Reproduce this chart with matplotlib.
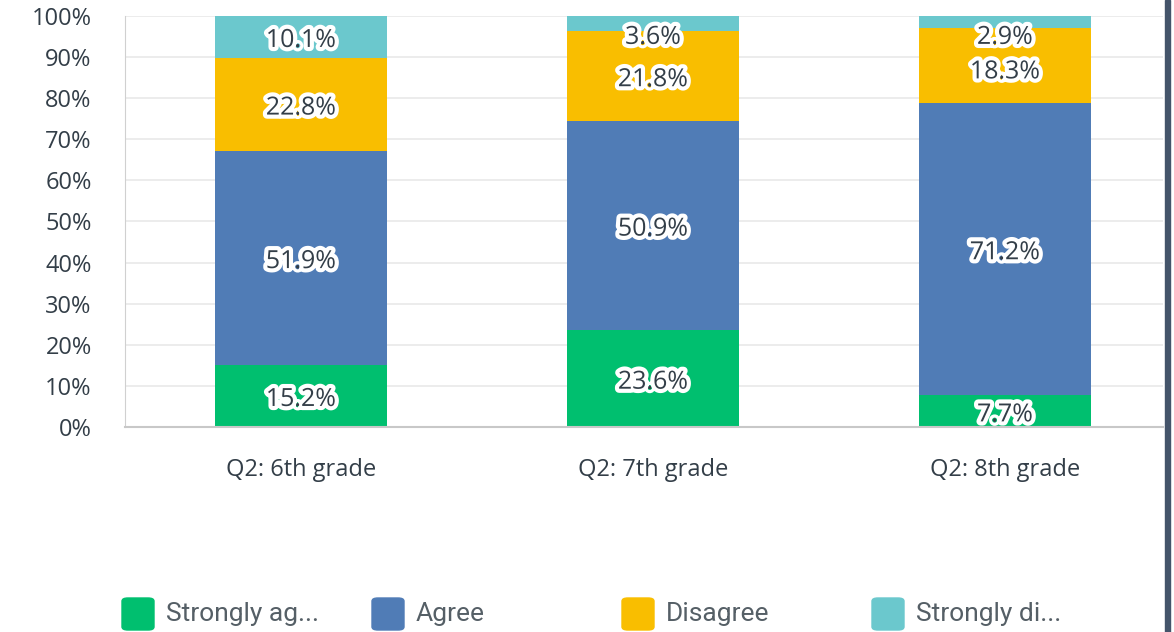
import matplotlib
matplotlib.use('Agg')
import matplotlib.pyplot as plt
import matplotlib.patheffects as pe
from matplotlib.patches import FancyBboxPatch, Rectangle
import numpy as np

categories = ['Q2: 6th grade', 'Q2: 7th grade', 'Q2: 8th grade']
series_names = ['Strongly ag...', 'Agree', 'Disagree', 'Strongly di...']
strongly_agree = [15.2, 23.6, 7.7]
agree = [51.9, 50.9, 71.2]
disagree = [22.8, 21.8, 18.3]
strongly_disagree = [10.1, 3.6, 2.9]
yticks = [0, 10, 20, 30, 40, 50, 60, 70, 80, 90, 100]

colors = ['#00bf6f', '#507cb6', '#f9be00', '#6bc8cd']
text_color = '#333e48'

plt.rcParams['font.family'] = ['Open Sans', 'DejaVu Sans']

fig = plt.figure(figsize=(11.74, 6.32), dpi=100)
ax = fig.add_axes([125 / 1174, 1 - 427 / 632, (1163 - 125) / 1174, 411 / 632])

x = np.arange(len(categories))
series = [strongly_agree, agree, disagree, strongly_disagree]
bottom = np.zeros(len(categories))
label_pos = []
for vals, col in zip(series, colors):
    vals = np.array(vals)
    ax.bar(x, vals, bottom=bottom, width=0.49, color=col, zorder=2)
    label_pos.append(bottom + vals / 2 - 0.9)
    bottom = bottom + vals

stroke = [pe.withStroke(linewidth=6, foreground='white')]
for i in range(len(categories)):
    ys = [p[i] for p in label_pos]
    # keep small top labels inside the plot and apart from each other
    ys[3] = min(ys[3], 94.8)
    for k in (2, 1, 0):
        if ys[k + 1] - ys[k] < 8.4:
            ys[k] = ys[k + 1] - 8.4
    for k, vals in enumerate(series):
        ax.text(x[i], ys[k], f'{vals[i]:.1f}%', ha='center', va='center',
                fontsize=18, color=text_color, path_effects=stroke, zorder=3)

ax.set_ylim(0, 100)
ax.set_xlim(-0.5, (1163 - 301) / 352)
ax.set_yticks(yticks)
ax.set_yticklabels([f'{t}%' for t in yticks], fontsize=17, color=text_color)
ax.set_xticks(x)
ax.set_xticklabels(categories, fontsize=17, color=text_color)
ax.tick_params(axis='both', length=0)
ax.tick_params(axis='x', pad=22)
ax.tick_params(axis='y', pad=24)
ax.grid(axis='y', color='#e9e9e9', linewidth=1.2, zorder=0)
for s in ['top', 'right']:
    ax.spines[s].set_visible(False)
ax.spines['left'].set_color('#d0d0d0')
ax.spines['bottom'].set_color('#c8c8c8')
ax.spines['bottom'].set_linewidth(1.5)

# legend row
for j, (name, col) in enumerate(zip(series_names, colors)):
    x0 = 122 + 250 * j
    fig.patches.append(FancyBboxPatch((x0 / 1174, 1 - 630 / 632), 32 / 1174, 32 / 632,
                                      boxstyle='round,pad=0,rounding_size=0.005',
                                      transform=fig.transFigure, color=col))
    fig.text((x0 + 44) / 1174, 1 - 614 / 632, name, fontsize=19, color='#555f66',
             va='center', ha='left', family=['Roboto', 'DejaVu Sans'])

# dark frame edge on the right
fig.patches.append(Rectangle((1165 / 1174, 0), 5 / 1174, 1, transform=fig.transFigure,
                             color='#44546a'))

plt.savefig('out.png', dpi=100, facecolor='white')
plt.close('all')
